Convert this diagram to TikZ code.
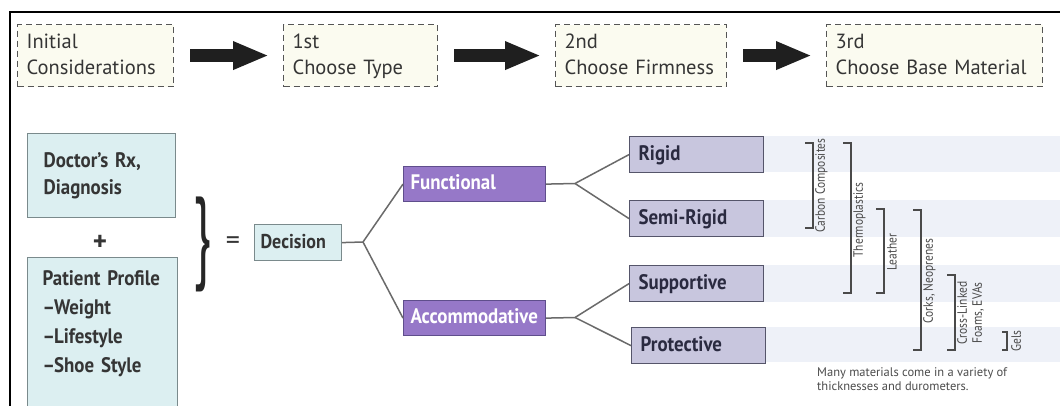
\documentclass[tikz,border=0pt]{standalone}
\usepackage{fontspec}
\setmainfont{PT Sans}
\newfontfamily\condf{PT Sans}[FakeStretch=0.9]
\newfontfamily\lblf{PT Sans}[FakeStretch=0.85]
\usetikzlibrary{arrows.meta}
\definecolor{cream}{HTML}{FBFBF0}
\definecolor{dashc}{HTML}{555555}
\definecolor{txt}{HTML}{353535}
\definecolor{cyfill}{HTML}{DCEFF1}
\definecolor{cyline}{HTML}{7A8A8C}
\definecolor{pufill}{HTML}{9678C8}
\definecolor{puline}{HTML}{5F4E8C}
\definecolor{lvfill}{HTML}{C8C6DE}
\definecolor{lvline}{HTML}{55556A}
\definecolor{lvtxt}{HTML}{2A2A40}
\definecolor{band}{HTML}{EEF1F8}
\definecolor{conc}{HTML}{6A6A6A}
\definecolor{brc}{HTML}{4A4A4A}
\newcommand\mystrut{\rule[-5pt]{0pt}{21pt}}
\begin{document}
\begin{tikzpicture}[x=1pt,y=-1pt,
  topbox/.style={draw=dashc, dash pattern=on 6pt off 4pt, fill=cream, line width=1.1pt,
    anchor=north west, inner xsep=9pt, inner ysep=0pt, align=left, minimum height=62pt,
    text=txt, font=\fontsize{20.5}{26}\selectfont},
  bigarrow/.style={line width=13pt, draw=black!88, -{Triangle[length=36pt,width=26pt]},
    shorten <=16pt, shorten >=14pt},
  cybox/.style={draw=cyline, fill=cyfill, line width=1.2pt, anchor=north west,
    inner xsep=16pt, align=left, text=txt, font=\condf\bfseries\fontsize{21}{27}\selectfont},
  pubox/.style={draw=puline, fill=pufill, line width=1.2pt, anchor=north west,
    inner xsep=7pt, inner ysep=0pt, minimum height=35pt, text width=128pt, align=left,
    text=white, font=\condf\bfseries\fontsize{21}{27}\selectfont},
  lvbox/.style={draw=lvline, fill=lvfill, line width=1.2pt, anchor=north west,
    inner xsep=9pt, inner ysep=0pt, minimum height=36pt, text width=116pt, align=left,
    text=lvtxt, font=\condf\bfseries\fontsize{21}{27}\selectfont},
  conn/.style={draw=conc, line width=1.5pt},
  brk/.style={draw=brc, line width=1.3pt},
  lbl/.style={rotate=90, anchor=north, inner sep=0pt, text=brc, align=center,
    font=\lblf\fontsize{13.5}{15}\selectfont}
]
\useasboundingbox (0,0) rectangle (1060,405);
\fill[white] (0,0) rectangle (1060,405);

% frame
\draw[line width=2.5pt, black] (10,406) -- (10,12) -- (1061,12);

% top row
\node[topbox, text width=138pt] (b0) at (17,24) {\mystrut Initial\\\mystrut Considerations};
\node[topbox, text width=136pt] (b1) at (283,24) {\mystrut 1st\\\mystrut Choose Type};
\node[topbox, text width=153pt] (b2) at (555,24) {\mystrut 2nd\\\mystrut Choose Firmness};
\node[topbox, text width=198pt] (b3) at (826,24) {\mystrut 3rd\\\mystrut Choose Base Material};
\draw[bigarrow] (b0.east) -- (b1.west);
\draw[bigarrow] (b1.east) -- (b2.west);
\draw[bigarrow] (b2.east) -- (b3.west);

% bands
\fill[band] (761,136) rectangle (1060,172);
\fill[band] (761,200) rectangle (1060,237);
\fill[band] (761,265) rectangle (1060,302);
\fill[band] (761,327) rectangle (1060,362);

% left inputs
\node[cybox, text width=116pt, minimum height=84pt, inner ysep=0pt] (dr) at (27,133)
  {\mystrut Doctor’s Rx,\\\mystrut Diagnosis};
\node[text=txt, font=\bfseries\fontsize{27}{27}\selectfont] (plus) at (100,243) {+};
\node[cybox, inner xsep=15pt, text width=120pt, inner ysep=12pt, font=\condf\bfseries\fontsize{21}{29}\selectfont] (pp) at (27,257)
  {\mystrut Patient Profile\\\mystrut –\kern-1pt Weight\\\mystrut –\kern-1pt Lifestyle\\\mystrut –\kern-1pt Shoe Style\\\mystrut};
\node[inner sep=0pt, text=black!85] (br) at (203,244.5) {\resizebox*{18pt}{95pt}{\}}};
\node[text=txt, font=\fontsize{28}{28}\selectfont] (eq) at (233,243) {=};
\node[cybox, inner xsep=6pt, inner ysep=0pt, text width=75pt, minimum height=36pt,
  font=\condf\bfseries\fontsize{20}{26}\selectfont] (dec) at (254,224) {\mystrut Decision};

% type
\node[pubox] (func) at (403,166) {\mystrut Functional};
\node[pubox] (acc) at (403,300) {\mystrut Accommodative};

% firmness
\node[lvbox] (rig) at (629,136) {\mystrut Rigid};
\node[lvbox] (semi) at (629,200) {\mystrut Semi-Rigid};
\node[lvbox] (sup) at (629,265) {\mystrut Supportive};
\node[lvbox] (pro) at (631,327) {\mystrut Protective};

% connectors
\coordinate (j1) at (363,242);
\coordinate (j2) at (575,183.5);
\coordinate (j3) at (575,317.5);
\draw[conn] (dec.east) -- (j1) -- (func.west);
\draw[conn] (j1) -- (acc.west);
\draw[conn] (func.east) -- (j2) -- (rig.west);
\draw[conn] (j2) -- (semi.west);
\draw[conn] (acc.east) -- (j3) -- (sup.west);
\draw[conn] (j3) -- (pro.west);

% material brackets
\draw[brk] (805,143) -- (813,143) -- (813,228) -- (805,228);
\draw[brk] (843,143) -- (851,143) -- (851,293) -- (843,293);
\draw[brk] (876,209) -- (884,209) -- (884,293) -- (876,293);
\draw[brk] (913,210) -- (921,210) -- (921,350) -- (913,350);
\draw[brk] (947,275) -- (955,275) -- (955,350) -- (947,350);
\draw[brk] (1002,332) -- (1007,332) -- (1007,350) -- (1002,350);
\node[lbl] (lcc) at (815,185.5) {Carbon Composites};
\node[lbl] (lth) at (853,220) {Thermoplastics};
\node[lbl] (lle) at (887,252) {Leather};
\node[lbl] (lco) at (923,281) {Corks, Neoprenes};
\node[lbl] (lcl) at (957,313) {Cross-Linked\\Foams, EVAs};
\node[lbl] (lge) at (1011,341) {Gels};

\node[anchor=north west, inner sep=0pt, align=left, text=black!70,
  font=\fontsize{12.5}{14}\selectfont] (cap) at (817,367)
  {Many materials come in a variety of\\thicknesses and durometers.};
\end{tikzpicture}
\end{document}
